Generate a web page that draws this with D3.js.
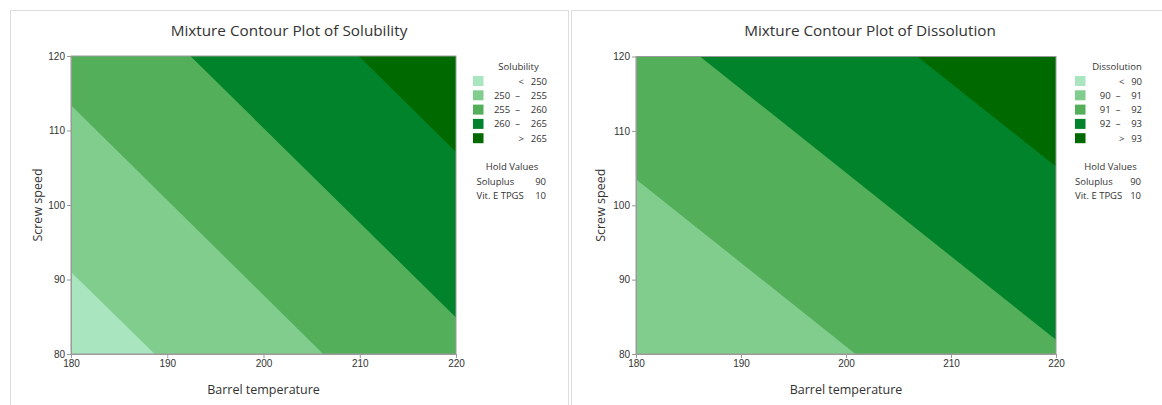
<!DOCTYPE html>
<html>
<head>
<meta charset="utf-8">
<script src="https://cdn.jsdelivr.net/npm/d3@7"></script>
<style>
  html, body { margin: 0; padding: 0; background: #fff; }
  svg { display: block; font-family: "Open Sans", "Noto Sans", sans-serif; }
  .tick text { fill: #333; }
</style>
</head>
<body>
<svg id="chart" width="1162" height="405"></svg>
<script>
// Design space
const temperatureDomain = [180, 220];
const speedDomain = [80, 120];
const temperatureTicks = [180, 190, 200, 210, 220];
const speedTicks = [80, 90, 100, 110, 120];

// Contour band colours, lowest to highest
const bandColors = ["#a9e5bf", "#81cd8e", "#53af5a", "#00832a", "#006a00"];

// Solubility: contour levels and where each level line meets the plot edges
// (pairs of [Barrel temperature, Screw speed])
const solubilityLevels = [250, 255, 260, 265];
const solubilityLines = [
  [[180, 91.0], [188.7, 80]],
  [[180, 113.4], [206.2, 80]],
  [[192.4, 120], [220, 84.9]],
  [[209.9, 120], [220, 107.1]]
];

// Dissolution: contour levels and their level lines
// ("below" = the whole region is above this level)
const dissolutionLevels = [90, 91, 92, 93];
const dissolutionLines = [
  "below",
  [[180, 103.5], [200.9, 80]],
  [[186.1, 120], [220, 81.9]],
  [[206.8, 120], [220, 105.2]]
];

// Hold values for the mixture components
const holdNames = ["Soluplus", "Vit. E TPGS"];
const holdValues = [90, 10];

const svg = d3.select("#chart");

// panel frames
svg.append("rect").attr("x", 10.5).attr("y", 10.5).attr("width", 558).attr("height", 420)
  .attr("fill", "none").attr("stroke", "#dcdcdc");
svg.append("rect").attr("x", 571.5).attr("y", 10.5).attr("width", 620).attr("height", 420)
  .attr("fill", "none").attr("stroke", "#dcdcdc");

// Clip a polygon to the half-plane on the high side of the line a-b
function clipHalfPlane(poly, a, b, ref) {
  const side = p => (b[0] - a[0]) * (p[1] - a[1]) - (b[1] - a[1]) * (p[0] - a[0]);
  const s = Math.sign(side(ref));
  const inside = p => side(p) * s >= 0;
  const out = [];
  for (let i = 0; i < poly.length; i++) {
    const cur = poly[i], prev = poly[(i + poly.length - 1) % poly.length];
    const ci = inside(cur), pi = inside(prev);
    if (ci !== pi) {
      const sp = side(prev), sc = side(cur);
      const t = sp / (sp - sc);
      out.push([prev[0] + t * (cur[0] - prev[0]), prev[1] + t * (cur[1] - prev[1])]);
    }
    if (ci) out.push(cur);
  }
  return out;
}

function drawPanel(cfg) {
  const g = svg.append("g");
  const x = d3.scaleLinear().domain(temperatureDomain).range([cfg.left, cfg.right]);
  const y = d3.scaleLinear().domain(speedDomain).range([cfg.bottom, cfg.top]);

  const corners = [
    [temperatureDomain[0], speedDomain[0]], [temperatureDomain[1], speedDomain[0]],
    [temperatureDomain[1], speedDomain[1]], [temperatureDomain[0], speedDomain[1]]
  ];
  const highCorner = [temperatureDomain[1], speedDomain[1]];
  const toPath = poly => "M" + poly.map(p => x(p[0]) + "," + y(p[1])).join("L") + "Z";

  // lowest band fills the whole region, then each higher band is laid over it
  g.append("path").attr("d", toPath(corners)).attr("fill", bandColors[0]);
  cfg.lines.forEach((ln, i) => {
    const poly = ln === "below" ? corners : clipHalfPlane(corners, ln[0], ln[1], highCorner);
    if (poly.length > 2) g.append("path").attr("d", toPath(poly)).attr("fill", bandColors[i + 1]);
  });

  // frame
  g.append("rect").attr("x", cfg.left).attr("y", cfg.top)
    .attr("width", cfg.right - cfg.left).attr("height", cfg.bottom - cfg.top)
    .attr("fill", "none").attr("stroke", "#9a9a9a").attr("stroke-width", 1);

  const xAxis = g.append("g").attr("transform", `translate(0,${cfg.bottom})`)
    .call(d3.axisBottom(x).tickValues(temperatureTicks).tickSize(4).tickSizeOuter(0).tickPadding(2));
  const yAxis = g.append("g").attr("transform", `translate(${cfg.left},0)`)
    .call(d3.axisLeft(y).tickValues(speedTicks).tickSize(4).tickSizeOuter(0).tickPadding(2));
  [xAxis, yAxis].forEach(a => {
    a.select(".domain").attr("stroke", "#9a9a9a");
    a.selectAll(".tick line").attr("stroke", "#9a9a9a");
    a.selectAll(".tick text").attr("font-size", 10).attr("font-family", "inherit");
  });

  // titles
  g.append("text").attr("x", cfg.titleX).attr("y", 36).attr("text-anchor", "middle")
    .attr("font-size", 15.3).attr("fill", "#333").text(cfg.title);
  g.append("text").attr("x", (cfg.left + cfg.right) / 2).attr("y", 394).attr("text-anchor", "middle")
    .attr("font-size", 12.5).attr("fill", "#333").text("Barrel temperature");
  g.append("text").attr("transform", `translate(${cfg.yTitleX},${(cfg.top + cfg.bottom) / 2}) rotate(-90)`)
    .attr("text-anchor", "middle").attr("font-size", 12.5).attr("fill", "#333").text("Screw speed");

  // legend
  const fs = 9.5;
  const digitW = 0.572 * fs;
  const L = g.append("g").attr("font-size", fs).attr("fill", "#333");
  const sx = cfg.legendX, rx = cfg.legendRight;
  L.append("text").attr("x", (sx + 17 + rx) / 2).attr("y", 70).attr("text-anchor", "middle").text(cfg.legendTitle);

  const lv = cfg.levels;
  const rows = [];
  rows.push({ sym: "<", hi: lv[0] });
  for (let i = 0; i < lv.length - 1; i++) rows.push({ lo: lv[i], sym: "\u2013", hi: lv[i + 1] });
  rows.push({ sym: ">", hi: lv[lv.length - 1] });

  // the widest right-hand number sets the symbol column
  const hiStart = rx - String(lv[lv.length - 1]).length * digitW;

  rows.forEach((r, i) => {
    const cy = 81 + i * 14.3;
    L.append("rect").attr("x", sx).attr("y", cy - 5).attr("width", 10.5).attr("height", 10)
      .attr("fill", bandColors[i]);
    L.append("text").attr("x", rx).attr("y", cy + 3.5).attr("text-anchor", "end").text(r.hi);
    const symX = r.lo === undefined ? hiStart - 9.5 : hiStart - 13;
    L.append("text").attr("x", symX).attr("y", cy + 3.5).attr("text-anchor", "middle").text(r.sym);
    if (r.lo !== undefined)
      L.append("text").attr("x", symX - 7.5).attr("y", cy + 3.5).attr("text-anchor", "end").text(r.lo);
  });

  L.append("text").attr("x", (sx + rx) / 2 + 2).attr("y", 170).attr("text-anchor", "middle").text("Hold Values");
  holdNames.forEach((n, i) => {
    const cy = 181 + i * 14.2;
    L.append("text").attr("x", sx + cfg.holdIndent).attr("y", cy + 3.5).text(n);
    L.append("text").attr("x", rx - 1).attr("y", cy + 3.5).attr("text-anchor", "end").text(holdValues[i]);
  });
}

drawPanel({
  title: "Mixture Contour Plot of Solubility", titleX: 289,
  left: 71, right: 456, top: 56, bottom: 354, yTitleX: 42,
  lines: solubilityLines, levels: solubilityLevels, legendTitle: "Solubility",
  legendX: 473, legendRight: 547, holdIndent: 3.5
});

drawPanel({
  title: "Mixture Contour Plot of Dissolution", titleX: 870,
  left: 636, right: 1056, top: 56.5, bottom: 354, yTitleX: 605,
  lines: dissolutionLines, levels: dissolutionLevels, legendTitle: "Dissolution",
  legendX: 1075, legendRight: 1142, holdIndent: 0
});
</script>
</body>
</html>
